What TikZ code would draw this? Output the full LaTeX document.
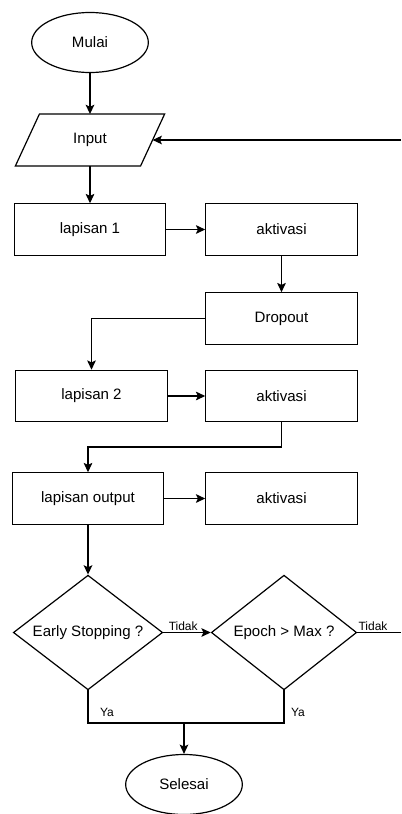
\documentclass[tikz,border=0pt]{standalone}
\usepackage{fontspec}
\setmainfont{Liberation Sans}
\usetikzlibrary{positioning, shapes.geometric, arrows.meta, calc}

\tikzset{
	base/.style={draw, line width=0.9pt, inner sep=0pt, font=\fontsize{11.3}{13}\selectfont},
	blok/.style={base, rectangle, minimum width=113.5pt, minimum height=38.5pt},
	terminal/.style={base, ellipse, minimum width=87.5pt, minimum height=45pt},
	masukan/.style={base, rectangle, draw=none, minimum width=93pt, minimum height=38pt},
	putusan/.style={base, diamond, aspect=1.3, minimum width=112pt, minimum height=86pt},
	garis/.style={line width=0.9pt, -{Stealth[length=7pt, width=6.5pt, inset=1.5pt]}},
	label/.style={font=\fontsize{9}{10}\selectfont, inner sep=1pt}
}

\begin{document}
\begin{tikzpicture}[x=0.75pt, y=-0.75pt]
	\useasboundingbox (0,0) rectangle (401,814);
	% Nodes
	\node[terminal] (mulai) at (90,42.5) {Mulai};
	\node[masukan] (input) at (90,140) {Input};
	\draw[line width=0.9pt] ($(input.north west)+(12,0)$) -- ($(input.north east)+(12,0)$)
		-- ($(input.south east)+(-12,0)$) -- ($(input.south west)+(-12,0)$) -- cycle;	% Parallelogram
	\node[blok] (l1) at (90,229.5) {lapisan 1};
	\node[blok] (a1) at (281.5,229.5) {aktivasi};
	\node[blok] (drop) at (281.5,318.5) {Dropout};
	\node[blok] (l2) at (91.5,396) {lapisan 2};
	\node[blok] (a2) at (281.5,396) {aktivasi};
	\node[blok] (lout) at (88,498.5) {lapisan output};
	\node[blok] (a3) at (281.5,498.5) {aktivasi};
	\node[putusan] (es) at (88,632.5) {Early Stopping ?};
	\node[putusan, minimum width=109pt] (ep) at (284,632.5) {Epoch > Max ?};
	\node[terminal] (selesai) at (184,784.5) {Selesai};
	% Connectors
	\draw[garis] (mulai) -- (input);
	\draw[garis] (input) -- (l1);
	\draw[garis] (l1) -- (a1);
	\draw[garis] (a1) -- (drop);
	\draw[garis] (drop.west) -| (l2.north);
	\draw[garis] (l2) -- (a2);
	\coordinate (k2) at (281.5,447);
	\draw[garis] (a2.south) -- (k2) -| (lout.north);
	\draw[garis] (lout) -- (a3);
	\draw[garis] (lout) -- (es);
	\draw[garis] (es.east) -- node[label, above, pos=0.42] {Tidak} (ep.west);
	\coordinate (ulang1) at (401,632.5);
	\coordinate (ulang2) at (401,140);
	\draw[line width=0.9pt] (ep.east) -- node[label, above, pos=0.36] {Tidak} (ulang1);
	\draw[garis] (ulang2) -- (input.east);
	% Ya
	\coordinate (gabung) at (184,723);
	\draw[line width=0.9pt] (es.south) |- (gabung) -| (ep.south);
	\draw[garis] (gabung) -- (selesai);
	\node[label] (ya1) at (107,712) {Ya};
	\node[label] (ya2) at (298,712) {Ya};
\end{tikzpicture}
\end{document}
